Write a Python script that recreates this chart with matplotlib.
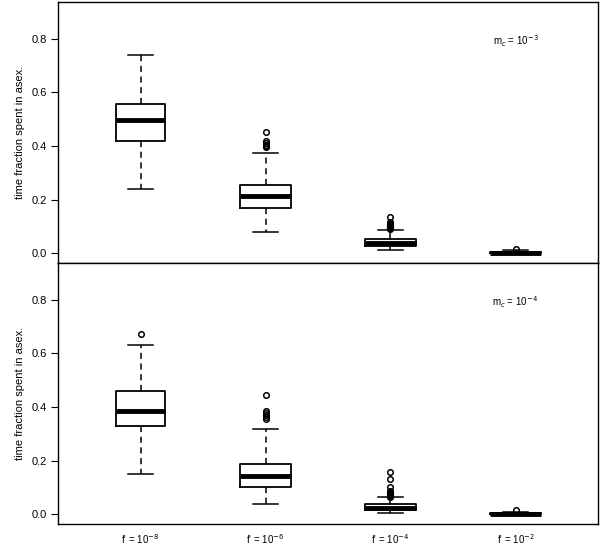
import matplotlib
matplotlib.use("Agg")
import matplotlib.pyplot as plt

plt.rcParams['font.family'] = ['Liberation Sans', 'DejaVu Sans']

categories = ["f' = 10$^{-8}$", "f' = 10$^{-6}$", "f' = 10$^{-4}$", "f' = 10$^{-2}$"]
panel_labels = ["m$_c$ = 10$^{-3}$", "m$_c$ = 10$^{-4}$"]

# panel 1 (m_c = 1e-3)
top_whislo = [0.239, 0.078, 0.012, 0.000]
top_q1 = [0.419, 0.167, 0.027, 0.001]
top_med = [0.496, 0.212, 0.040, 0.003]
top_q3 = [0.558, 0.253, 0.055, 0.006]
top_whishi = [0.737, 0.375, 0.086, 0.012]
top_fliers = [
    [],
    [0.395, 0.400, 0.405, 0.410, 0.418, 0.451],
    [0.090, 0.093, 0.096, 0.099, 0.102, 0.105, 0.108, 0.111, 0.115, 0.137],
    [0.018],
]

# panel 2 (m_c = 1e-4)
bot_whislo = [0.151, 0.038, 0.006, 0.000]
bot_q1 = [0.330, 0.100, 0.015, 0.001]
bot_med = [0.384, 0.144, 0.025, 0.003]
bot_q3 = [0.461, 0.186, 0.040, 0.005]
bot_whishi = [0.629, 0.318, 0.063, 0.010]
bot_fliers = [
    [0.673],
    [0.355, 0.362, 0.370, 0.378, 0.385, 0.443],
    [0.066, 0.069, 0.072, 0.075, 0.078, 0.081, 0.084, 0.088, 0.100, 0.130, 0.159],
    [0.016],
]

yticks = [0.0, 0.2, 0.4, 0.6, 0.8]

fig = plt.figure(figsize=(6.0, 5.45), dpi=100)
ax1 = fig.add_axes([58/600, 1-263/545, 540/600, 261/545])
ax2 = fig.add_axes([58/600, 1-524/545, 540/600, 261/545])

panels = [
    (ax1, top_whislo, top_q1, top_med, top_q3, top_whishi, top_fliers, panel_labels[0]),
    (ax2, bot_whislo, bot_q1, bot_med, bot_q3, bot_whishi, bot_fliers, panel_labels[1]),
]

for ax, wl, q1, med, q3, wh, fl, lab in panels:
    stats = []
    for i in range(4):
        stats.append(dict(whislo=wl[i], q1=q1[i], med=med[i], q3=q3[i],
                          whishi=wh[i], fliers=fl[i]))
    ax.bxp(stats, positions=[1, 2, 3, 4], widths=0.4, showfliers=True,
           boxprops=dict(color='black', linewidth=1.3),
           medianprops=dict(color='black', linewidth=3.5, solid_capstyle='butt'),
           whiskerprops=dict(color='black', linewidth=1.1, linestyle=(0, (4, 3))),
           capprops=dict(color='black', linewidth=1.1),
           flierprops=dict(marker='o', markersize=4, markerfacecolor='none',
                           markeredgecolor='black', markeredgewidth=1.1),
           capwidths=0.2)
    ax.set_xlim(0.34, 4.66)
    ax.set_ylim(-0.036, 0.936)
    ax.set_yticks(yticks)
    ax.set_yticklabels([f"{v:.1f}" for v in yticks], fontsize=8)
    ax.tick_params(axis='y', direction='out', length=5, width=0.8, pad=3)
    ax.set_ylabel("time fraction spent in asex.", fontsize=8, labelpad=5)
    ax.text(4.0, 0.79, lab, fontsize=7, ha='center', va='center')
    for s in ax.spines.values():
        s.set_linewidth(1.0)

ax1.set_xticks([])
ax2.set_xticks([1, 2, 3, 4])
ax2.set_xticklabels(categories, fontsize=7)
ax2.tick_params(axis='x', length=0, pad=6)

fig.savefig("out.png", dpi=100)
